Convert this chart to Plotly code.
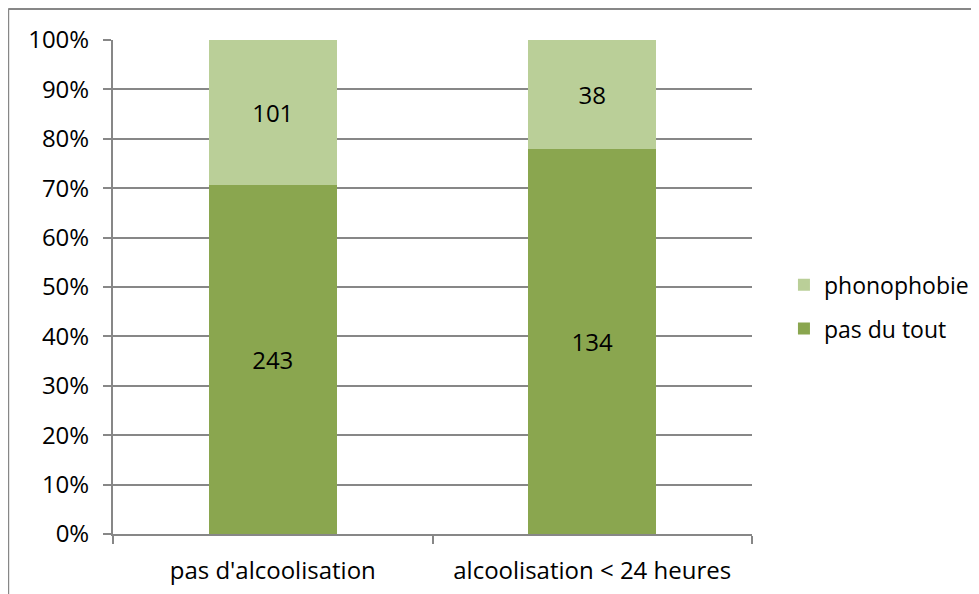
import plotly.graph_objects as go

categories = ["pas d'alcoolisation", "alcoolisation < 24 heures"]
pas_du_tout = [243, 134]
phonophobie = [101, 38]

grey = "#878787"
font = "Open Sans, Liberation Sans, sans-serif"
fsize = 24

fig = go.Figure()
fig.add_trace(go.Bar(
    x=categories, y=pas_du_tout, name="pas du tout",
    marker=dict(color="#8AA64F", line=dict(width=0)),
    text=pas_du_tout, textposition="inside", insidetextanchor="middle",
    textfont=dict(color="black", size=fsize, family=font),
    legendgroup="a", legendrank=2,
))
fig.add_trace(go.Bar(
    x=categories, y=phonophobie, name="phonophobie",
    marker=dict(color="#BACF98", line=dict(width=0)),
    text=phonophobie, textposition="inside", insidetextanchor="middle",
    textfont=dict(color="black", size=fsize, family=font),
    legendgroup="b", legendrank=1,
))

# page has an 8px body margin, so margins are offset to keep the plot area in place
fig.update_layout(
    width=979, height=594,
    barmode="stack", barnorm="percent", bargap=0.6,
    plot_bgcolor="white", paper_bgcolor="white",
    margin=dict(l=105, r=235, t=32, b=68, autoexpand=False),
    font=dict(family=font, size=fsize, color="black"),
    uniformtext=dict(mode="show", minsize=10),
    showlegend=True,
    legend=dict(
        x=1.05, y=0.46, xanchor="left", yanchor="middle",
        traceorder="grouped", tracegroupgap=11, itemwidth=30,
        font=dict(size=fsize - 1, family=font),
    ),
    xaxis=dict(
        showline=True, linecolor=grey, linewidth=2,
        ticks="outside", tickson="boundaries", ticklen=8,
        tickcolor=grey, tickwidth=2, showgrid=False,
        tickfont=dict(size=fsize), ticklabelstandoff=14,
    ),
    yaxis=dict(
        range=[0, 100], dtick=10, ticksuffix="%",
        showline=True, linecolor=grey, linewidth=2,
        ticks="outside", ticklen=8, tickcolor=grey, tickwidth=2,
        showgrid=True, gridcolor=grey, gridwidth=2,
        zeroline=False, tickfont=dict(size=fsize), ticklabelstandoff=9,
    ),
    shapes=[
        dict(type="line", xref="paper", yref="paper",
             x0=-0.164, x1=1.4, y0=1.063, y1=1.063,
             line=dict(color=grey, width=2)),
        dict(type="line", xref="paper", yref="paper",
             x0=-0.164, x1=-0.164, y0=1.063, y1=-0.15,
             line=dict(color=grey, width=2)),
    ],
)

fig.write_html("out.html")
